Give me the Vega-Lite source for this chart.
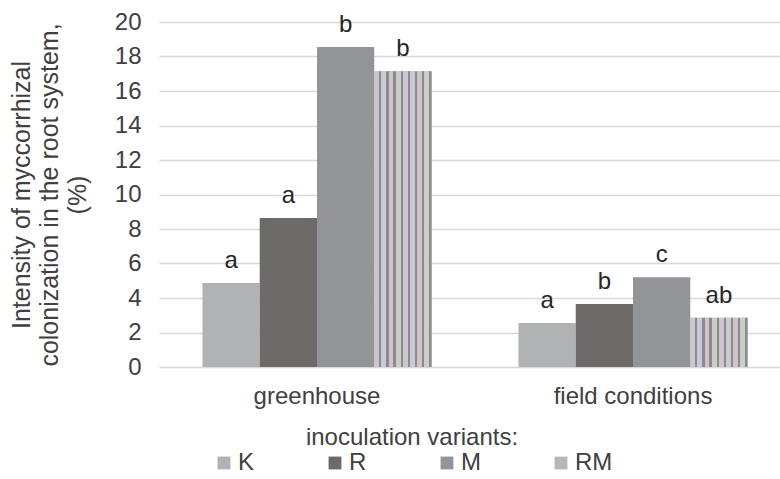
{
  "$schema": "https://vega.github.io/schema/vega-lite/v6.json",
  "width": 621,
  "height": 345,
  "autosize": {"type": "none"},
  "padding": {"left": 159, "top": 22, "right": 0, "bottom": 112},
  "background": "white",
  "config": {
    "font": "Liberation Sans",
    "view": {"stroke": null},
    "legend": {
      "orient": "none",
      "legendX": 53,
      "legendY": 404,
      "direction": "horizontal",
      "columns": 4,
      "columnPadding": 68,
      "symbolType": "square",
      "symbolSize": 165,
      "symbolStrokeWidth": 0,
      "labelFontSize": 24,
      "labelColor": "#404040",
      "labelOffset": 2,
      "titleFontSize": 24,
      "titleFontWeight": "normal",
      "titleColor": "#404040",
      "titleAnchor": "middle",
      "titleOrient": "top",
      "titlePadding": 1,
      "titleLimit": 500,
      "padding": 0
    }
  },
  "data": {
    "values": [
      {"cond": "greenhouse", "variant": "K", "value": 4.87, "letter": "a"},
      {"cond": "greenhouse", "variant": "R", "value": 8.64, "letter": "a"},
      {"cond": "greenhouse", "variant": "M", "value": 18.55, "letter": "b"},
      {"cond": "greenhouse", "variant": "RM", "value": 17.15, "letter": "b"},
      {"cond": "field conditions", "variant": "K", "value": 2.55, "letter": "a"},
      {"cond": "field conditions", "variant": "R", "value": 3.65, "letter": "b"},
      {"cond": "field conditions", "variant": "M", "value": 5.2, "letter": "c"},
      {"cond": "field conditions", "variant": "RM", "value": 2.85, "letter": "ab"}
    ]
  },
  "encoding": {
    "x": {
      "field": "cond",
      "type": "nominal",
      "sort": ["greenhouse", "field conditions"],
      "scale": {"range": [0, 632], "paddingInner": 0.275, "paddingOuter": 0.1375},
      "axis": {
        "title": null,
        "labelAngle": 0,
        "labelFontSize": 24,
        "labelColor": "#404040",
        "labelPadding": 17,
        "ticks": false,
        "domain": false
      }
    },
    "xOffset": {
      "field": "variant",
      "type": "nominal",
      "sort": ["K", "R", "M", "RM"],
      "scale": {"paddingInner": 0, "paddingOuter": 0}
    },
    "y": {
      "field": "value",
      "type": "quantitative",
      "scale": {"domain": [0, 20]},
      "axis": {
        "title": ["Intensity of myccorrhizal", "colonization in the root system,", "(%)"],
        "titleFontSize": 25,
        "titleFontWeight": "normal",
        "titleColor": "#404040",
        "titleLineHeight": 28,
        "titlePadding": 24,
        "labelFontSize": 24,
        "labelColor": "#404040",
        "labelPadding": 18,
        "ticks": false,
        "domain": false,
        "values": [0, 2, 4, 6, 8, 10, 12, 14, 16, 18, 20],
        "gridColor": "#d9d9d9",
        "gridWidth": 1.5
      }
    }
  },
  "layer": [
    {
      "mark": {"type": "bar"},
      "encoding": {
        "color": {
          "field": "variant",
          "type": "nominal",
          "sort": ["K", "R", "M", "RM"],
          "scale": {"domain": ["K", "R", "M", "RM"], "range": ["#b1b2b4", "#6d6a69", "#939497", "#bab5bd"]},
          "legend": {"title": "inoculation variants:"}
        }
      }
    },
    {
      "transform": [{"filter": "datum.variant === 'RM'"}],
      "mark": {
        "type": "bar",
        "fill": {
          "gradient": "linear",
          "x1": 0, "y1": 0, "x2": 1, "y2": 0,
          "stops": [
            {"offset": 0, "color": "#ccc6cd"}, {"offset": 0.085, "color": "#ccc6cd"},
            {"offset": 0.085, "color": "#8d8893"}, {"offset": 0.125, "color": "#8d8893"},
            {"offset": 0.125, "color": "#c6cdd0"}, {"offset": 0.21, "color": "#c6cdd0"},
            {"offset": 0.21, "color": "#8d8893"}, {"offset": 0.25, "color": "#8d8893"},
            {"offset": 0.25, "color": "#d0c4c8"}, {"offset": 0.335, "color": "#d0c4c8"},
            {"offset": 0.335, "color": "#8d8893"}, {"offset": 0.375, "color": "#8d8893"},
            {"offset": 0.375, "color": "#c8d0c4"}, {"offset": 0.46, "color": "#c8d0c4"},
            {"offset": 0.46, "color": "#8d8893"}, {"offset": 0.5, "color": "#8d8893"},
            {"offset": 0.5, "color": "#ccc6cd"}, {"offset": 0.585, "color": "#ccc6cd"},
            {"offset": 0.585, "color": "#8d8893"}, {"offset": 0.625, "color": "#8d8893"},
            {"offset": 0.625, "color": "#c6cdd0"}, {"offset": 0.71, "color": "#c6cdd0"},
            {"offset": 0.71, "color": "#8d8893"}, {"offset": 0.75, "color": "#8d8893"},
            {"offset": 0.75, "color": "#d0c4c8"}, {"offset": 0.835, "color": "#d0c4c8"},
            {"offset": 0.835, "color": "#8d8893"}, {"offset": 0.875, "color": "#8d8893"},
            {"offset": 0.875, "color": "#c8d0c4"}, {"offset": 0.96, "color": "#c8d0c4"},
            {"offset": 0.96, "color": "#8d8893"}, {"offset": 1, "color": "#8d8893"}
          ]
        }
      }
    },
    {
      "mark": {"type": "text", "baseline": "alphabetic", "dy": -15, "fontSize": 24, "color": "#262626"},
      "encoding": {"text": {"field": "letter"}}
    }
  ]
}
